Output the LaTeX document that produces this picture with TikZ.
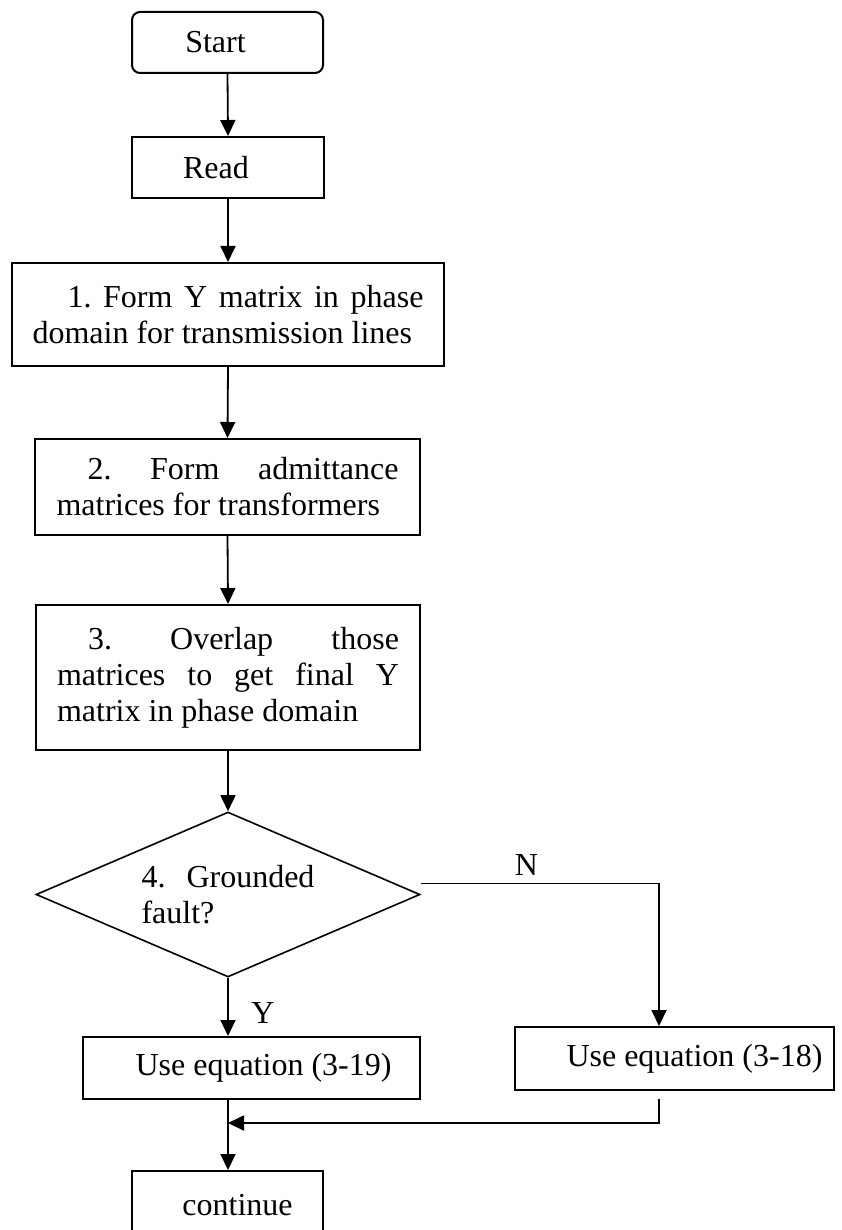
\documentclass[tikz,border=0pt]{standalone}
\usepackage{fontspec}
\setmainfont{Liberation Serif}
\usepackage{tikz}
\usetikzlibrary{calc, shapes.geometric, arrows.meta}
\frenchspacing

\begin{document}
\begin{tikzpicture}[x=1pt, y=-1pt,
		every node/.style = {font=\fontsize{32}{36}\selectfont},
		box/.style = {draw, line width=2pt, inner sep=0pt},
		arr/.style = {line width=1.8pt, -{Triangle[length=16pt, width=15pt]}}]
		%page
		\useasboundingbox (0,0) rectangle (841,1230);
		
		%variables
		\def\tw{342pt};
		
		%boxes
		\node [box, rounded corners=8pt, minimum width=191pt, minimum height=61pt] (start) at (227.5, 42.5) {Start\hspace*{24pt}};
		\node [box, minimum width=192pt, minimum height=61pt] (read) at (228, 167.5) {Read\hspace*{24pt}};
		
		\node [box, minimum width=432pt, minimum height=103pt, text width=391pt, align=justify] (form y) at (228, 314.5)
			{\hspace*{35pt}1. Form Y matrix in phase\linebreak domain for transmission lines};
		\node [box, minimum width=385pt, minimum height=96pt, text width=\tw, align=justify] (form adm) at (227.5, 487)
			{\hspace*{31pt}2. Form admittance\linebreak matrices for transformers};
		\node [box, minimum width=384pt, minimum height=145pt, text width=\tw, align=justify] (overlap) at (228, 677.5)
			{\hspace*{31pt}3. Overlap those\linebreak matrices to get final Y\linebreak matrix in phase domain};
		
		\node [diamond, draw, line width=1.6pt, inner sep=0pt, aspect=2.33, minimum width=384pt, minimum height=165pt, align=left] (fault) at (228, 894.5)
			{4.\hspace{21pt}Grounded\\fault?};
		
		\node [box, minimum width=337pt, minimum height=62pt] (eq19) at (251.5, 1068) {\hspace*{24pt}Use equation (3-19)};
		\node [box, minimum width=319pt, minimum height=63pt] (eq18) at (674.5, 1058.5) {\hspace*{40pt}Use equation (3-18)};
		\node [box, minimum width=191pt, minimum height=69pt] (cont) at (227.5, 1205.5) {\hspace*{20pt}continue};
		
		%labels
		\node [anchor=base] (yes) at (263, 1023) {Y};
		\node [anchor=base] (no) at (526.5, 875) {N};
		
		%coordinates
		\coordinate (no start) at ($ (fault.east) + (0,-11) $);
		\coordinate (no corner) at (659, 883.5);
		\coordinate (back start) at (659, 1099);
		\coordinate (merge) at (228, 1123);
		
		%arrows
		\draw [arr] (start.south) -- (read.north);
		\draw [arr] (read.south) -- (form y.north);
		\draw [arr] (form y.south) -- (form adm.north);
		\draw [arr] (form adm.south) -- (overlap.north);
		\draw [arr] (overlap.south) -- (fault.north);
		
		\draw [arr] (fault.south) -- (fault.south |- eq19.north);
		\draw [arr] (no start) -- (no corner) -- (no corner |- eq18.north);
		
		\draw [arr] (back start) -- (back start |- merge) -- (merge);
		\draw [arr] (merge |- eq19.south) -- (merge |- cont.north);
	\end{tikzpicture}
\end{document}
